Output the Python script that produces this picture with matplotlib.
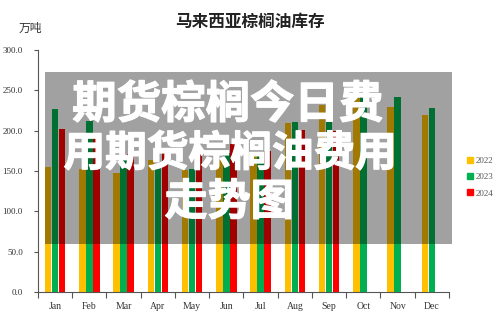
import matplotlib
matplotlib.use("Agg")
import matplotlib.pyplot as plt
from matplotlib.patches import Rectangle
from matplotlib.lines import Line2D
import matplotlib.patheffects as pe
import numpy as np

months = ["Jan", "Feb", "Mar", "Apr", "May", "Jun", "Jul", "Aug", "Sep", "Oct", "Nov", "Dec"]
s2022 = [155, 152, 147, 164, 151, 165, 173, 209, 232, 240, 229, 219]
s2023 = [227, 212, 167, 157, 152, 172, 173, 211, 231, 245, 242, 228]
s2024 = [202, 192, 171, 175, 175, 183, 175, 201, 200]
series_names = ["2022", "2023", "2024"]
colors = ["#FFC000", "#00B050", "#FF0000"]
yticks = [0, 50, 100, 150, 200, 250, 300]

W, H = 500, 317
fig = plt.figure(figsize=(W / 100, H / 100), dpi=100)
ax = fig.add_axes([38 / W, 1 - 292 / H, (449 - 38) / W, (292 - 50) / H])

serif = "Liberation Serif"
bw = 0.185
off = 0.205
for i, (vals, c) in enumerate(zip([s2022, s2023, s2024], colors)):
    x = np.arange(len(vals)) + (i - 1) * off
    ax.bar(x, vals, width=bw, color=c, linewidth=0, zorder=2)

ax.set_xlim(-0.5, 11.5)
ax.set_ylim(0, 300)
ax.set_yticks(yticks)
ax.set_yticklabels([f"{v:.1f}" for v in yticks], fontfamily=serif, fontsize=6.5, color="#333333")
ax.set_xticks(np.arange(-0.5, 12, 1))
ax.set_xticklabels([])
ax.set_xticks(np.arange(12), minor=True)
ax.set_xticklabels(months, minor=True, fontfamily=serif, fontsize=7, color="#333333")
ax.tick_params(axis="x", which="major", length=4, width=0.8, color="#555555", direction="out")
ax.tick_params(axis="x", which="minor", length=0, pad=7)
ax.tick_params(axis="y", length=3, width=0.8, color="#555555", direction="out", pad=8)
for s in ["top", "right"]:
    ax.spines[s].set_visible(False)
for s in ["left", "bottom"]:
    ax.spines[s].set_color("#555555")
    ax.spines[s].set_linewidth(0.8)

fig.text(250 / W, 1 - 22 / H, "马来西亚棕榈油库存", ha="center", va="center",
         fontfamily="Noto Sans CJK SC", fontsize=12, fontweight="bold", color="#222222")
fig.text(30 / W, 1 - 28 / H, "万吨", ha="center", va="center",
         fontfamily="Noto Sans CJK SC", fontsize=8.5, color="#333333")

handles = [Line2D([], [], marker="s", linestyle="none", markersize=4.5, color=c) for c in colors]
leg = fig.legend(handles, series_names, loc="center left", bbox_to_anchor=(458 / W, 1 - 177 / H),
                 frameon=False, handlelength=0.8, handletextpad=0.3, labelspacing=0.9,
                 prop={"family": serif, "size": 6.5})
for t in leg.get_texts():
    t.set_color("#555555")

# overlay
rect = Rectangle((45 / W, 1 - 244 / H), (452 - 45) / W, (244 - 72) / H, transform=fig.transFigure,
                 facecolor="black", alpha=0.37, linewidth=0, zorder=5)
fig.add_artist(rect)
ov = dict(ha="center", va="center", fontfamily="Noto Sans CJK SC", fontweight="heavy",
          color="white", zorder=6,
          path_effects=[pe.withStroke(linewidth=0.9, foreground="white")])
fig.text(228 / W, 1 - 105 / H, "期货棕榈今日费", fontsize=32, **ov)
fig.text(230 / W, 1 - 154 / H, "用期货棕榈油费用", fontsize=30, **ov)
fig.text(229 / W, 1 - 202 / H, "走势图", fontsize=31, **ov)

fig.savefig("out.png", dpi=100)
